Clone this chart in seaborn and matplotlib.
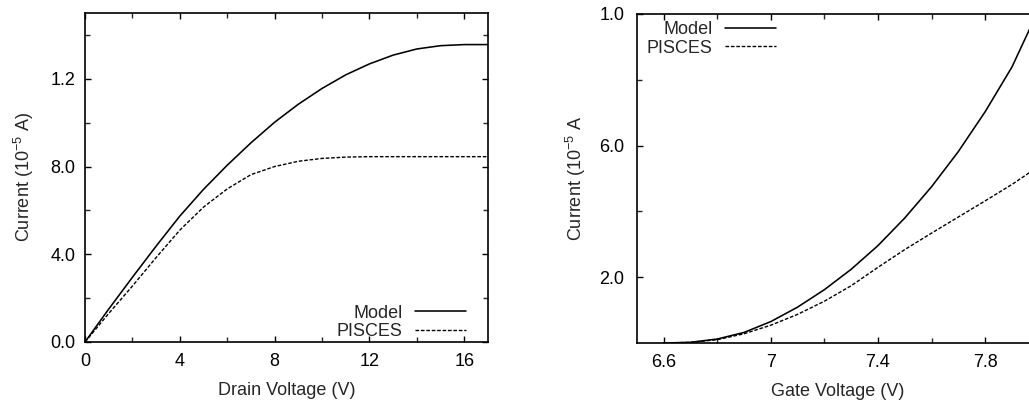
import numpy as np
import pandas as pd
import seaborn as sns
import matplotlib.pyplot as plt
from matplotlib.ticker import FixedLocator

# left panel: drain current vs drain voltage (y in units as drawn, 0..15)
drain_v = [0, 1, 2, 3, 4, 5, 6, 7, 8, 9, 10, 11, 12, 13, 14, 15, 16, 17]
drain_model = [0, 1.5, 2.95, 4.37, 5.74, 6.96, 8.06, 9.08, 10.02, 10.84, 11.56, 12.18, 12.68, 13.08, 13.36, 13.51, 13.56, 13.56]
drain_pisces = [0, 1.3, 2.55, 3.85, 5.1, 6.15, 6.98, 7.63, 8.0, 8.24, 8.37, 8.43, 8.45, 8.45, 8.45, 8.45, 8.45, 8.45]

# right panel: drain current vs gate voltage
gate_v = [6.6, 6.7, 6.8, 6.9, 7.0, 7.1, 7.2, 7.3, 7.4, 7.5, 7.6, 7.7, 7.8, 7.9, 8.0]
gate_model = [0, 0.02, 0.12, 0.32, 0.65, 1.09, 1.62, 2.24, 2.96, 3.80, 4.75, 5.82, 7.03, 8.39, 10.14]
gate_pisces = [0, 0.02, 0.10, 0.28, 0.54, 0.87, 1.27, 1.74, 2.30, 2.84, 3.34, 3.83, 4.32, 4.82, 5.37]

left_yticks = [0, 4, 8, 12]
left_ylabels = ["0.0", "4.0", "8.0", "1.2"]
left_xticks = [0, 4, 8, 12, 16]
right_yticks = [2, 6, 10]
right_ylabels = ["2.0", "6.0", "1.0"]
right_xticks = [6.6, 7.0, 7.4, 7.8]
right_xlabels = ["6.6", "7", "7.4", "7.8"]

sns.set_style("ticks")
plt.rcParams["font.family"] = ["Liberation Sans", "DejaVu Sans"]
plt.rcParams["font.size"] = 13
plt.rcParams["mathtext.fontset"] = "custom"
plt.rcParams["mathtext.rm"] = "Liberation Sans"
plt.rcParams["mathtext.it"] = "Liberation Sans:italic"

fig = plt.figure(figsize=(10.29, 4.0), dpi=100)
ax1 = fig.add_axes([0.0826, 0.145, 0.3916, 0.8225])
ax2 = fig.add_axes([0.6188, 0.1425, 0.3907, 0.8225])

dash = (0, (2.6, 1.3))

sns.lineplot(x=drain_v, y=drain_model, color="black", lw=1.15, ax=ax1, label="Model")
sns.lineplot(x=drain_v, y=drain_pisces, color="black", lw=1.0, linestyle=dash, ax=ax1, label="PISCES")
sns.lineplot(x=gate_v, y=gate_model, color="black", lw=1.15, ax=ax2, label="Model")
sns.lineplot(x=gate_v, y=gate_pisces, color="black", lw=1.0, linestyle=dash, ax=ax2, label="PISCES")

ax1.set_xlim(0, 17)
ax1.set_ylim(0, 15)
ax1.set_xticks(left_xticks)
ax1.set_xticklabels([str(t) for t in left_xticks])
ax1.xaxis.set_minor_locator(FixedLocator([2, 6, 10, 14]))
ax1.set_yticks(left_yticks)
ax1.set_yticklabels(left_ylabels)
ax1.yaxis.set_minor_locator(FixedLocator([2, 6, 10, 14]))

ax2.set_xlim(6.5, 8.0)
ax2.set_ylim(0, 10)
ax2.set_xticks(right_xticks)
ax2.set_xticklabels(right_xlabels)
ax2.xaxis.set_minor_locator(FixedLocator([6.8, 7.2, 7.6, 8.0]))
ax2.set_yticks(right_yticks)
ax2.set_yticklabels(right_ylabels)
ax2.yaxis.set_minor_locator(FixedLocator([4, 8]))

ax1.set_xlabel("Drain Voltage (V)")
ax1.set_ylabel("Current (10$^{-5}$ A)")
ax2.set_xlabel("Gate Voltage (V)")
ax2.set_ylabel("Current (10$^{-5}$ A")

for ax, ypad in ((ax1, 7), (ax2, 9)):
    for s in ax.spines.values():
        s.set_visible(True)
        s.set_linewidth(1.2)
        s.set_color("black")
    ax.tick_params(which="major", direction="in", length=4.5, width=1.0,
                   top=True, right=True, colors="black", labelsize=13)
    ax.tick_params(which="minor", direction="in", length=3.5, width=1.0,
                   top=True, right=True)
    ax.tick_params(axis="x", pad=8)
    ax.tick_params(axis="y", pad=ypad)
    ax.xaxis.set_label_coords(0.5, -0.122)
    ax.yaxis.set_label_coords(-0.122, 0.5)

# gnuplot style key: right-aligned text followed by line sample
leg1 = ax1.legend(loc="lower right", bbox_to_anchor=(0.945, 0.006), frameon=False,
                  markerfirst=False, handlelength=2.8, handletextpad=0.7,
                  labelspacing=0.08, borderpad=0, borderaxespad=0, fontsize=13)
leg2 = ax2.legend(loc="upper left", bbox_to_anchor=(0.025, 0.978), frameon=False,
                  markerfirst=False, handlelength=2.8, handletextpad=0.7,
                  labelspacing=0.08, borderpad=0, borderaxespad=0, fontsize=13)
for leg in (leg1, leg2):
    for col in leg._legend_handle_box.get_children():
        col.align = "right"

fig.savefig("out.png", dpi=100)
